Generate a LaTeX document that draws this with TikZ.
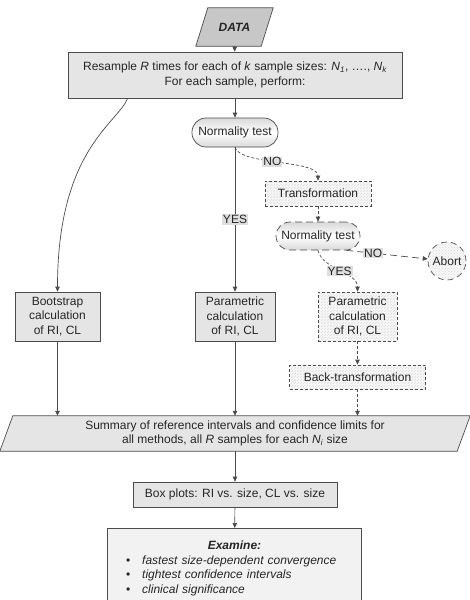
\documentclass[tikz,border=0pt]{standalone}
\usepackage{fontspec}
\setmainfont{Liberation Sans}
\usetikzlibrary{arrows.meta,patterns,shapes.geometric}
\pgfdeclarelayer{bg}
\pgfsetlayers{bg,main}
\begin{document}
\begin{tikzpicture}[x=1pt,y=-1pt,
  font=\fontsize{12}{14.5}\selectfont, text=black!85,
  line/.style={draw=black!70, line width=0.7pt},
  arr/.style={line, -{Triangle[length=5pt,width=4.5pt]}},
  darr/.style={arr, dash pattern=on 3pt off 2pt},
  ldarr/.style={arr, dash pattern=on 7pt off 4pt},
  box/.style={line, fill=black!10, align=center, inner sep=0pt},
  hbox/.style={line, dash pattern=on 3pt off 2pt, align=center, inner sep=0pt,
    preaction={fill=black!3}, pattern=north east lines, pattern color=black!13},
  pill/.style={line, rounded corners=14pt, top color=black!15, bottom color=black!15,
    middle color=white, align=center, inner sep=0pt},
  lab/.style={fill=black!13, inner sep=1pt},
]
\useasboundingbox (0,0) rectangle (470,600);

% nodes
\node[minimum width=65, minimum height=38, inner sep=0pt] (data) at (234.5,27) {\textbf{\textit{DATA}}};
\node[box, minimum width=334, minimum height=46] (res) at (235,75)
  {Resample \textit{R} times for each of \textit{k} sample sizes: \textit{N\textsubscript{1}}, …., \textit{N\textsubscript{k}}\\For each sample, perform:};
\node[pill, minimum width=86, minimum height=29] (norm1) at (235,132.5) {Normality test};
\node[hbox, minimum width=106, minimum height=25] (tr) at (318,193.5) {Transformation};
\node[pill, dash pattern=on 7pt off 4pt, minimum width=84, minimum height=28] (norm2) at (318,236) {Normality test};
\node[circle, line, dash pattern=on 6pt off 4pt, minimum size=38, inner sep=0pt,
  preaction={fill=black!3}, pattern=crosshatch dots, pattern color=black!15] (abort) at (447,261) {Abort};
\node[box, minimum width=85, minimum height=49] (boot) at (57.5,316.5) {Bootstrap\\calculation\\of RI, CL};
\node[box, minimum width=80, minimum height=49] (par1) at (235,316.5) {Parametric\\calculation\\of RI, CL};
\node[hbox, minimum width=79, minimum height=49] (par2) at (357.5,316.5) {Parametric\\calculation\\of RI, CL};
\node[hbox, minimum width=136, minimum height=24] (back) at (357.5,377) {Back-transformation};
\node[minimum width=457, minimum height=35, inner sep=0pt, align=center] (sum) at (235,433.5)
  {Summary of reference intervals and confidence limits for\\all methods, all \textit{R} samples for each \textit{N\textsubscript{i}} size};
\node[box, minimum width=204, minimum height=25] (bp) at (235,494.5) {Box plots: RI vs. size, CL vs. size};
\node[box, fill=black!5, text width=230, inner xsep=12pt, inner ysep=0pt, minimum height=80, anchor=north, align=left] (exam) at (234.5,528)
  {\centering\textbf{\textit{Examine:}}\par\raggedright
   \hspace*{6.5pt}\textbullet\hspace{12pt}\textit{fastest size-dependent convergence}\par
   \hspace*{6.5pt}\textbullet\hspace{12pt}\textit{tightest confidence intervals}\par
   \hspace*{6.5pt}\textbullet\hspace{12pt}\textit{clinical significance}\par};

% parallelograms
\begin{pgfonlayer}{bg}
\draw[line, fill=black!22] ([xshift=-6pt]data.south west) -- ([xshift=-6pt]data.south east)
  -- ([xshift=6pt]data.north east) -- ([xshift=6pt]data.north west) -- cycle;
\draw[line, fill=black!10] ([xshift=-6.5pt]sum.south west) -- ([xshift=-6.5pt]sum.south east)
  -- ([xshift=6.5pt]sum.north east) -- ([xshift=6.5pt]sum.north west) -- cycle;
\end{pgfonlayer}

% connectors
\draw[arr] (data) -- (res);
\draw[arr] (res) -- (norm1);
\draw[arr] ([xshift=60pt]res.south west) .. controls +(-10,25) and +(0,-142) .. (boot.north);
\draw[arr] (norm1) -- node[lab]{YES} (par1);
\draw[darr] (norm1.south) .. controls +(5,18) and +(0,-21) .. node[lab, pos=0.45]{NO} (tr.north);
\draw[darr] (tr) -- (norm2);
\draw[ldarr] ([xshift=-14pt]norm2.south east) -- node[lab, pos=0.33]{NO} (abort);
\draw[darr] (norm2.south) .. controls +(5,20) and +(0,-20) .. node[lab]{YES} (par2.north);
\draw[darr] (par2) -- (back);
\draw[darr] (back) -- (back |- sum.north);
\draw[arr] (boot) -- (boot |- sum.north);
\draw[arr] (par1) -- (par1 |- sum.north);
\draw[arr] (sum) -- (bp);
\draw[arr] (bp) -- (exam);
\end{tikzpicture}
\end{document}
